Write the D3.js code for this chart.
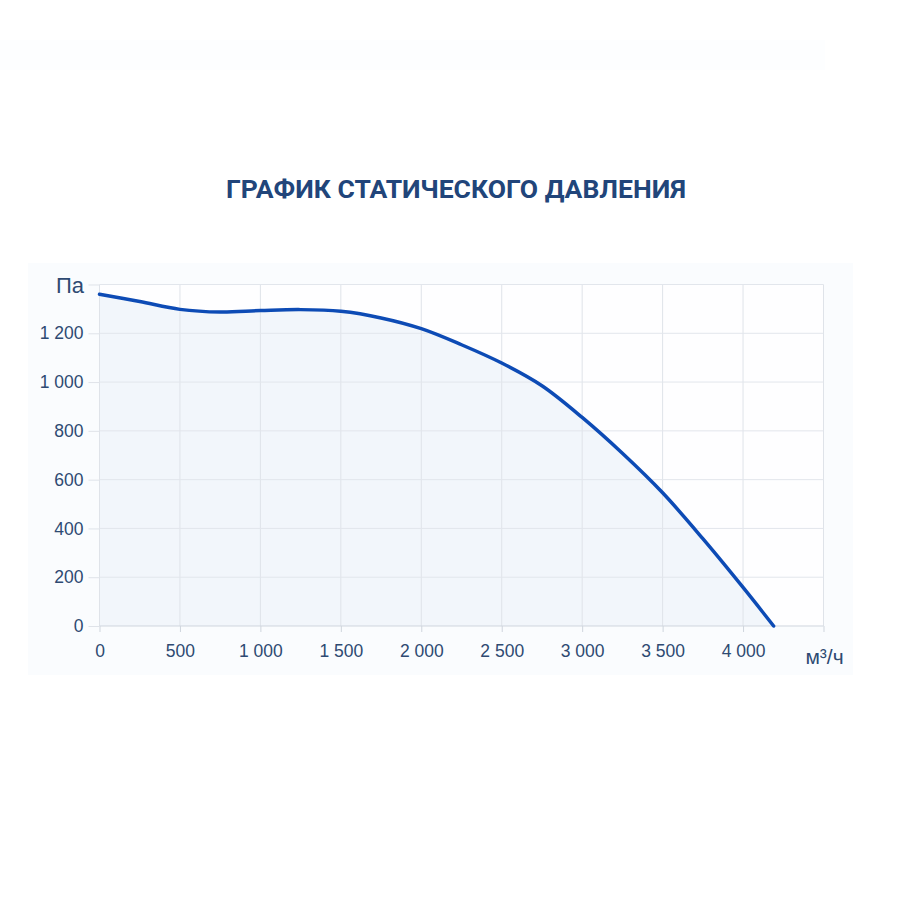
<!DOCTYPE html>
<html>
<head>
<meta charset="utf-8">
<script src="https://cdn.jsdelivr.net/npm/d3@7"></script>
<style>
  body { margin: 0; background: #fff; }
  svg { display: block; }
</style>
</head>
<body>
<div id="chart"></div>
<script>
// airflow, m3/h
const flow = [0, 250, 500, 750, 1000, 1250, 1500, 1750, 2000, 2250, 2500, 2750, 3000, 3250, 3500, 3750, 4000, 4190];
// static pressure, Pa
const pressure = [1360, 1330, 1298, 1287, 1293, 1297, 1290, 1263, 1219, 1153, 1078, 985, 855, 708, 546, 358, 158, 0];

const xTicks = [0, 500, 1000, 1500, 2000, 2500, 3000, 3500, 4000, 4500];
const yTicks = [0, 200, 400, 600, 800, 1000, 1200, 1400];

const title = 'ГРАФИК СТАТИЧЕСКОГО ДАВЛЕНИЯ';
const xUnit = 'м³/ч';
const yUnit = 'Па';

const width = 900, height = 900;
const plot = { left: 99.5, right: 823.5, top: 284.5, bottom: 626 };
const textColor = '#2e4a72';
const labelFont = 'Liberation Sans, Arial, sans-serif';

const fmt = d => d3.format(',')(d).replace(/,/g, ' ');

const svg = d3.select('#chart')
  .append('svg')
  .attr('width', width)
  .attr('height', height);

// faint page panels
svg.append('rect').attr('x', 0).attr('y', 40).attr('width', 825).attr('height', 30).attr('fill', '#fdfeff');
svg.append('rect').attr('x', 28).attr('y', 263).attr('width', 825).attr('height', 412).attr('fill', '#fafcfe');
svg.append('rect')
  .attr('x', plot.left).attr('y', plot.top)
  .attr('width', plot.right - plot.left).attr('height', plot.bottom - plot.top)
  .attr('fill', '#fefeff');

const x = d3.scaleLinear()
  .domain([0, 4500])
  .range([plot.left, plot.right]);

const y = d3.scaleLinear()
  .domain([0, 1400])
  .range([plot.bottom, plot.top]);

const data = flow.map((q, i) => ({ q: q, p: pressure[i] }));
const curve = d3.curveCatmullRom.alpha(0.5);

// area under the curve
svg.append('path')
  .datum(data)
  .attr('fill', '#f2f6fb')
  .attr('d', d3.area()
    .x(d => x(d.q))
    .y0(y(0))
    .y1(d => y(d.p))
    .curve(curve));

// grid
svg.append('g')
  .selectAll('line')
  .data(xTicks)
  .join('line')
  .attr('x1', d => x(d)).attr('x2', d => x(d))
  .attr('y1', plot.top).attr('y2', plot.bottom)
  .attr('stroke', '#dfe3e9')
  .attr('stroke-width', 1);

svg.append('g')
  .selectAll('line')
  .data(yTicks)
  .join('line')
  .attr('x1', plot.left).attr('x2', plot.right)
  .attr('y1', d => y(d)).attr('y2', d => y(d))
  .attr('stroke', d => d === 0 ? '#cfd5dd' : '#e2e6ec')
  .attr('stroke-width', 1);

// x axis
const xAxis = svg.append('g')
  .attr('transform', `translate(0,${plot.bottom})`)
  .call(d3.axisBottom(x)
    .tickValues(xTicks)
    .tickSize(6)
    .tickPadding(13)
    .tickFormat(d => d === 4500 ? '' : fmt(d)));
xAxis.select('.domain').remove();
xAxis.selectAll('line').attr('stroke', '#cfd5dd');
xAxis.selectAll('text')
  .attr('fill', textColor)
  .style('font-family', labelFont)
  .style('font-size', '17.5px');

svg.append('text')
  .attr('x', x(4500) + 1)
  .attr('y', 664)
  .attr('text-anchor', 'middle')
  .attr('fill', textColor)
  .style('font-family', labelFont)
  .style('font-size', '21px')
  .text(xUnit);

// y axis
const yAxis = svg.append('g')
  .attr('transform', `translate(${plot.left},0)`)
  .call(d3.axisLeft(y)
    .tickValues(yTicks)
    .tickSize(11)
    .tickPadding(5)
    .tickFormat(d => d === 1400 ? '' : fmt(d)));
yAxis.select('.domain').remove();
yAxis.selectAll('line').attr('stroke', '#dfe3e9');
yAxis.selectAll('text')
  .attr('fill', textColor)
  .style('font-family', labelFont)
  .style('font-size', '17.5px');

svg.append('text')
  .attr('x', 84)
  .attr('y', y(1400) + 8)
  .attr('text-anchor', 'end')
  .attr('fill', textColor)
  .style('font-family', labelFont)
  .style('font-size', '22px')
  .text(yUnit);

// curve
svg.append('path')
  .datum(data)
  .attr('fill', 'none')
  .attr('stroke', '#0d4bb5')
  .attr('stroke-width', 3.5)
  .attr('stroke-linecap', 'round')
  .attr('d', d3.line()
    .x(d => x(d.q))
    .y(d => y(d.p))
    .curve(curve));

// title
svg.append('text')
  .attr('x', 456)
  .attr('y', 198)
  .attr('text-anchor', 'middle')
  .attr('fill', '#21457a')
  .style('font-family', 'Roboto, sans-serif')
  .style('font-weight', 'bold')
  .style('font-size', '26.5px')
  .text(title);
</script>
</body>
</html>
